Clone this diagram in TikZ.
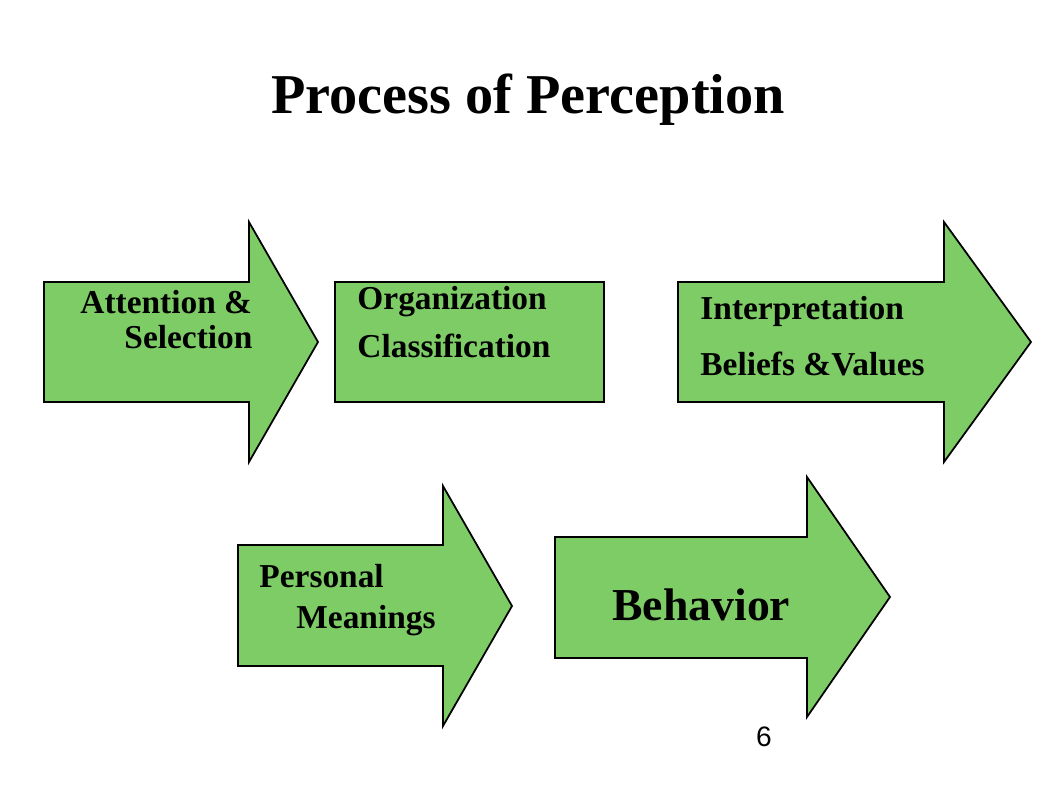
\documentclass[tikz,border=0pt]{standalone}
\usepackage{fontspec}
\setmainfont{Liberation Serif}
\newfontfamily\pagefont{Liberation Sans}
\definecolor{arrowgreen}{RGB}{126,204,102}
\begin{document}
\begin{tikzpicture}[x=0.01cm,y=-0.01cm,
  greenshape/.style={draw=black,fill=arrowgreen,line width=0.5pt},
  lbl/.style={font=\bfseries\fontsize{9.5}{12}\selectfont,align=left,anchor=west}]

\useasboundingbox (0,0) rectangle (1057,794);

\node (title) at (528,100) {\bfseries\fontsize{16}{19}\selectfont Process of Perception};

% arrows and box
\draw[greenshape] (44,282) -- (249,282) -- (249,222) -- (318,342) -- (249,462) -- (249,402) -- (44,402) -- cycle;
\draw[greenshape] (335,282) rectangle (604,402);
\draw[greenshape] (678,282) -- (944,282) -- (944,222) -- (1031,342) -- (944,462) -- (944,402) -- (678,402) -- cycle;
\draw[greenshape] (238,545) -- (443,545) -- (443,486) -- (512,606) -- (443,726) -- (443,666) -- (238,666) -- cycle;
\draw[greenshape] (555,537) -- (807,537) -- (807,477) -- (890,597) -- (807,717) -- (807,658) -- (555,658) -- cycle;

\node[lbl] (attention) at (68,302) {Attention \&};
\node[lbl] (selection) at (112,337) {Selection};
\node[lbl] (organization) at (345,302) {Organization};
\node[lbl] (classification) at (345,346) {Classification};
\node[lbl] (interpretation) at (688,311) {Interpretation};
\node[lbl] (beliefs) at (688,364) {Beliefs \&Values};
\node[lbl] (personal) at (247,576) {Personal};
\node[lbl] (meanings) at (284,621) {Meanings};
\node[lbl,font=\bfseries\fontsize{13}{15}\selectfont] (behavior) at (600,605) {Behavior};

\node (page) at (764,737) {\pagefont\fontsize{8}{10}\selectfont 6};

\end{tikzpicture}
\end{document}
